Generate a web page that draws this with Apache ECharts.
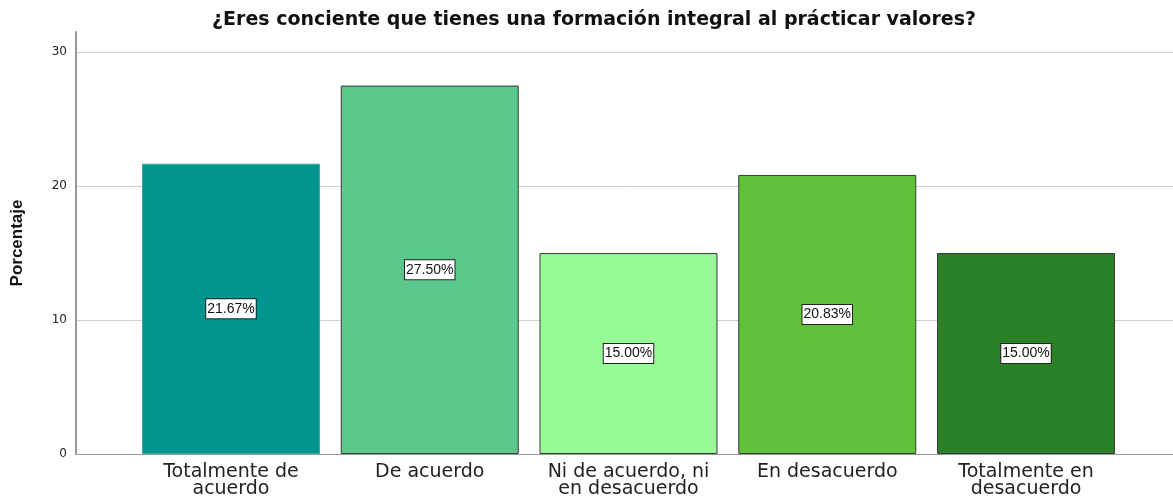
<!DOCTYPE html>
<html>
<head>
<meta charset="utf-8">
<script src="https://cdn.jsdelivr.net/npm/echarts@6/dist/echarts.min.js"></script>
<style>
  html, body { margin: 0; padding: 0; background: #fff; }
  #chart { width: 1173px; height: 500px; }
</style>
</head>
<body>
<div id="chart"></div>
<script>
// datos
var categorias = ["Totalmente de\nacuerdo", "De acuerdo", "Ni de acuerdo, ni\nen desacuerdo", "En desacuerdo", "Totalmente en\ndesacuerdo"];
var porcentajes = [21.67, 27.50, 15.00, 20.83, 15.00];
var colores = ["#00968f", "#5cc78a", "#98fa96", "#60c13a", "#2a8128"];

var font = "'Liberation Sans', Arial, sans-serif";
var wide = "'DejaVu Sans', sans-serif";
var yMax = 31.5;

var myChart = echarts.init(document.getElementById("chart"));

myChart.setOption({
  animation: false,
  title: {
    text: "¿Eres conciente que tienes una formación integral al prácticar valores?",
    left: 589,
    textAlign: "center",
    top: 6,
    textStyle: { fontFamily: wide, fontSize: 19, fontWeight: "bold", color: "#111" }
  },
  grid: [
    // marco: linea del eje Y y eje X
    { left: 76, right: 0, top: 32, bottom: 46 },
    // barras
    { left: 131.6, right: 47.6, top: 32, bottom: 46 },
    // lineas de referencia 0..30
    { left: 76, right: 0, top: 52, bottom: 46 }
  ],
  xAxis: [
    {
      gridIndex: 0,
      type: "category",
      data: [""],
      axisLine: { show: true, lineStyle: { color: "#999", width: 1 } },
      axisTick: { show: false },
      axisLabel: { show: false }
    },
    {
      gridIndex: 1,
      type: "category",
      data: categorias,
      axisLine: { show: false },
      axisTick: { show: false },
      axisLabel: {
        fontFamily: wide,
        fontSize: 19,
        color: "#222",
        lineHeight: 17,
        margin: 10,
        interval: 0
      }
    },
    {
      gridIndex: 2,
      type: "category",
      data: [""],
      show: false
    }
  ],
  yAxis: [
    {
      gridIndex: 0,
      type: "value",
      min: 0,
      max: yMax,
      name: "Porcentaje",
      nameLocation: "middle",
      nameGap: 50,
      nameTextStyle: { fontFamily: font, fontSize: 17, fontWeight: "bold", color: "#111" },
      axisLine: { show: true, lineStyle: { color: "#999", width: 2 } },
      axisTick: { show: false },
      axisLabel: { show: false },
      splitLine: { show: false }
    },
    {
      gridIndex: 1,
      type: "value",
      min: 0,
      max: yMax,
      show: false
    },
    {
      gridIndex: 2,
      type: "value",
      min: 0,
      max: 30,
      interval: 10,
      axisLine: { show: false },
      axisTick: { show: false },
      axisLabel: {
        fontFamily: wide,
        fontSize: 12,
        color: "#222",
        margin: 9
      },
      splitLine: { show: true, lineStyle: { color: "#cfcfcf", width: 1 } }
    }
  ],
  series: [
    {
      type: "bar",
      xAxisIndex: 1,
      yAxisIndex: 1,
      barWidth: 178,
      data: porcentajes.map(function (v, i) {
        return {
          value: v,
          itemStyle: {
            color: colores[i],
            borderColor: i === 0 ? "#3aa9a3" : "#3a3a3a",
            borderWidth: 1
          }
        };
      }),
      label: {
        show: true,
        position: "inside",
        formatter: function (p) { return p.value.toFixed(2) + "%"; },
        fontFamily: font,
        fontSize: 14,
        color: "#111",
        backgroundColor: "#fff",
        borderColor: "#222",
        borderWidth: 1,
        padding: [3, 1, 2, 1]
      }
    }
  ]
});
</script>
</body>
</html>
